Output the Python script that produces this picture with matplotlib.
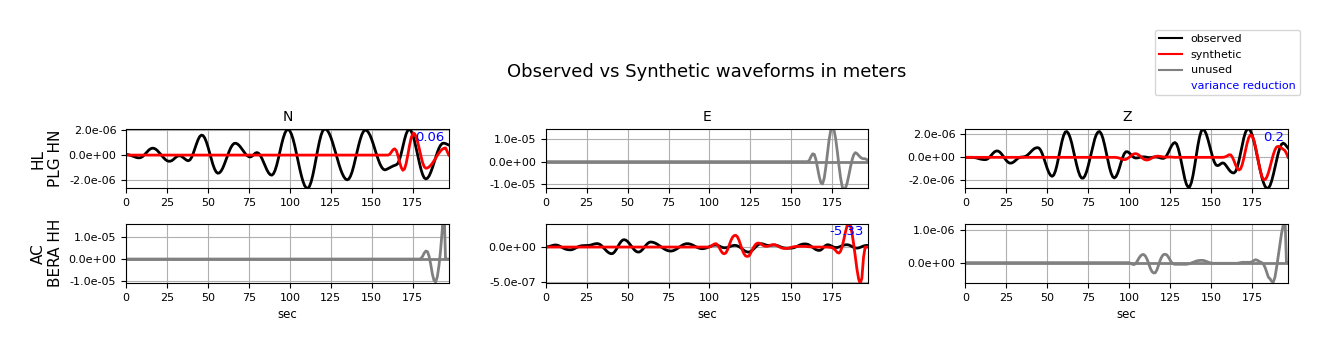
#!/usr/bin/env python3
"""Observed vs synthetic waveform panels (2 stations x 3 components),
with variance reduction printed in the used panels. Writes out.png."""

import matplotlib

matplotlib.use("Agg")
import matplotlib.pyplot as plt
from matplotlib.lines import Line2D
from matplotlib.ticker import FormatStrFormatter
import numpy as np

# ---- Layout labels -------------------------------------------------------
STATIONS = ["HL\nPLG HN", "AC\nBERA HH"]
COMPONENTS = ["N", "E", "Z"]
X_TICKS = [0, 25, 50, 75, 100, 125, 150, 175]

# Panel flags and variance reduction (None = not shown)
USED = [[True, False, True], [False, True, False]]
VAR_RED = [[0.06, None, 0.2], [None, -5.33, None]]

# Amplitude unit of each value list below (metres)
UNITS = [[1e-6, 1e-5, 1e-6], [1e-5, 1e-7, 1e-6]]

# ---- Traces: 1 s samples starting at the onset second; flat zero before ----
HL_N_OBS_ONSET = 0
HL_N_OBS = [
    0.05, 0.04, 0.01, -0.03, -0.08, -0.13, -0.175, -0.21, -0.22, -0.2,
    -0.13, -0.01, 0.13, 0.275, 0.41, 0.5, 0.55, 0.54, 0.48, 0.38,
    0.24, 0.09, -0.07, -0.22, -0.35, -0.445, -0.49, -0.49, -0.44, -0.34,
    -0.22, -0.12, -0.06, -0.055, -0.11, -0.21, -0.32, -0.41, -0.45, -0.39,
    -0.19, 0.12, 0.5, 0.885, 1.23, 1.48, 1.59, 1.56, 1.38, 1.07,
    0.665, 0.195, -0.285, -0.73, -1.09, -1.34, -1.445, -1.415, -1.28, -1.05,
    -0.74, -0.395, -0.03, 0.31, 0.6, 0.81, 0.93, 0.945, 0.89, 0.775,
    0.62, 0.44, 0.25, 0.08, -0.05, -0.13, -0.15, -0.08, 0.045, 0.16,
    0.2, 0.135, -0.03, -0.28, -0.575, -0.89, -1.18, -1.41, -1.56, -1.6,
    -1.49, -1.21, -0.79, -0.26, 0.31, 0.88, 1.375, 1.76, 1.99, 2.05,
    1.93, 1.66, 1.26, 0.745, 0.16, -0.46, -1.07, -1.62, -2.09, -2.43,
    -2.62, -2.65, -2.49, -2.13, -1.61, -0.98, -0.28, 0.415, 1.05, 1.57,
    1.92, 2.09, 2.07, 1.95, 1.73, 1.42, 1.04, 0.61, 0.16, -0.3,
    -0.745, -1.15, -1.48, -1.74, -1.91, -1.97, -1.905, -1.68, -1.33, -0.86,
    -0.325, 0.24, 0.79, 1.27, 1.655, 1.9, 2.0, 1.955, 1.8, 1.56,
    1.23, 0.845, 0.43, 0.01, -0.37, -0.71, -0.96, -1.125, -1.18, -1.14,
    -1.07, -1.0, -0.93, -0.87, -0.82, -0.77, -0.66, -0.34, 0.14, 0.7,
    1.245, 1.695, 1.98, 2.05, 1.92, 1.61, 1.17, 0.61, 0.015, -0.58,
    -1.12, -1.54, -1.81, -1.9, -1.84, -1.66, -1.37, -1.01, -0.6, -0.18,
    0.21, 0.55, 0.79, 0.925, 0.95, 0.92, 0.86, 0.8,
]
HL_N_SYN_ONSET = 158
HL_N_SYN = [
    0.0, 0.0, 0.0, 0.07, 0.25, 0.43, 0.5, 0.35, -0.055, -0.565,
    -1.0, -1.21, -1.1, -0.66, 0.01, 0.74, 1.35, 1.7, 1.72, 1.48,
    1.05, 0.5, -0.08, -0.59, -0.93, -1.05, -1.02, -0.94, -0.81, -0.645,
    -0.45, -0.24, -0.03, 0.165, 0.33, 0.46, 0.54, 0.57, 0.3, 0.0,
]
HL_E_OBS_ONSET = 158
HL_E_OBS = [
    0.0, 0.0, 0.0, 0.07, 0.23, 0.35, 0.32, 0.08, -0.3, -0.68,
    -0.94, -0.99, -0.74, -0.25, 0.37, 0.97, 1.39, 1.55, 1.41, 1.02,
    0.46, -0.16, -0.72, -1.11, -1.25, -1.17, -0.95, -0.62, -0.26, 0.07,
    0.3, 0.4, 0.36, 0.28, 0.2, 0.15, 0.13, 0.13, 0.09, 0.05,
]
HL_E_SYN_ONSET = 197
HL_E_SYN = [0.0]
HL_Z_OBS_ONSET = 0
HL_Z_OBS = [
    0.0, 0.0, 0.0, 0.0, 0.0, -0.01, -0.03, -0.06, -0.1, -0.14,
    -0.17, -0.19, -0.2, -0.18, -0.1, 0.04, 0.205, 0.365, 0.49, 0.55,
    0.545, 0.46, 0.315, 0.13, -0.075, -0.265, -0.41, -0.495, -0.5, -0.45,
    -0.35, -0.22, -0.1, -0.02, 0.02, 0.03, 0.05, 0.1, 0.2, 0.33,
    0.48, 0.62, 0.74, 0.81, 0.84, 0.8, 0.62, 0.31, -0.09, -0.53,
    -0.955, -1.31, -1.55, -1.64, -1.535, -1.19, -0.65, 0.02, 0.72, 1.37,
    1.88, 2.19, 2.23, 2.065, 1.71, 1.21, 0.6, -0.05, -0.67, -1.2,
    -1.59, -1.79, -1.795, -1.61, -1.25, -0.75, -0.16, 0.46, 1.06, 1.58,
    1.97, 2.19, 2.23, 2.045, 1.65, 1.09, 0.435, -0.25, -0.87, -1.37,
    -1.685, -1.78, -1.66, -1.37, -0.95, -0.47, -0.03, 0.31, 0.48, 0.485,
    0.395, 0.25, 0.1, -0.02, -0.06, -0.05, -0.02, 0.02, 0.04, 0.04,
    0.03, 0.0, -0.02, -0.02, 0.0, 0.02, 0.03, 0.02, 0.0, -0.05,
    -0.08, -0.09, -0.02, 0.17, 0.44, 0.75, 1.02, 1.21, 1.28, 1.15,
    0.76, 0.18, -0.515, -1.23, -1.87, -2.34, -2.58, -2.54, -2.18, -1.55,
    -0.725, 0.18, 1.06, 1.78, 2.26, 2.42, 2.32, 2.04, 1.6, 1.07,
    0.515, 0.0, -0.41, -0.66, -0.72, -0.66, -0.55, -0.48, -0.52, -0.68,
    -0.88, -1.08, -1.24, -1.33, -1.35, -1.22, -0.86, -0.31, 0.355, 1.05,
    1.68, 2.16, 2.43, 2.465, 2.3, 1.97, 1.49, 0.9, 0.23, -0.455,
    -1.12, -1.71, -2.19, -2.52, -2.68, -2.66, -2.44, -2.03, -1.49, -0.86,
    -0.225, 0.36, 0.82, 1.125, 1.23, 1.15, 0.98, 0.8,
]
HL_Z_SYN_ONSET = 90
HL_Z_SYN = [
    0.0, 0.0, -0.01, -0.03, -0.07, -0.12, -0.17, -0.2, -0.18, -0.1,
    0.0, 0.12, 0.23, 0.3, 0.32, 0.28, 0.19, 0.07, -0.06, -0.16,
    -0.22, -0.23, -0.2, -0.13, -0.05, 0.02, 0.07, 0.1, 0.1, 0.08,
    0.05, 0.03, 0.02, 0.02, 0.03, 0.03, 0.02, 0.01, 0.0, 0.0,
    0.0, 0.0, 0.0, 0.0, 0.0, 0.0, 0.0, 0.0, 0.0, 0.0,
    0.0, 0.0, 0.0, 0.0, 0.0, 0.0, 0.0, 0.0, 0.0, 0.0,
    0.0, 0.0, 0.0, 0.0, 0.0, 0.0, 0.0, 0.0, 0.02, 0.06,
    0.14, 0.22, 0.215, 0.02, -0.3, -0.665, -0.96, -1.095, -1.005, -0.64,
    -0.07, 0.59, 1.22, 1.705, 1.94, 1.88, 1.55, 1.0, 0.3, -0.445,
    -1.12, -1.64, -1.91, -1.92, -1.72, -1.335, -0.83, -0.28, 0.24, 0.65,
    0.9, 0.95, 0.9, 0.8, 0.7, 0.6, 0.35, 0.0,
]
AC_N_OBS_ONSET = 178
AC_N_OBS = [
    0.0, 0.0, 0.02, 0.12, 0.27, 0.36, 0.33, 0.12, -0.25, -0.68,
    -0.97, -1.03, -0.8, -0.3, 0.4, 1.3, 2.6, 0.0, 0.0, 0.0,
]
AC_N_SYN_ONSET = 197
AC_N_SYN = [0.0]
AC_E_OBS_ONSET = 0
AC_E_OBS = [
    0.0, 0.03, 0.08, 0.15, 0.22, 0.28, 0.3, 0.28, 0.2, 0.08,
    -0.05, -0.18, -0.28, -0.35, -0.39, -0.4, -0.38, -0.3, -0.18, -0.05,
    0.06, 0.14, 0.19, 0.21, 0.22, 0.22, 0.23, 0.26, 0.32, 0.4,
    0.46, 0.5, 0.49, 0.4, 0.23, -0.005, -0.26, -0.52, -0.735, -0.89,
    -0.965, -0.93, -0.72, -0.385, 0.03, 0.445, 0.79, 1.01, 1.07, 0.99,
    0.81, 0.54, 0.235, -0.08, -0.37, -0.59, -0.71, -0.72, -0.61, -0.39,
    -0.11, 0.2, 0.465, 0.655, 0.73, 0.71, 0.65, 0.555, 0.43, 0.275,
    0.11, -0.06, -0.22, -0.36, -0.47, -0.54, -0.58, -0.57, -0.51, -0.405,
    -0.27, -0.11, 0.05, 0.21, 0.34, 0.435, 0.485, 0.485, 0.44, 0.36,
    0.255, 0.13, 0.007, -0.1, -0.185, -0.23, -0.235, -0.2, -0.135, -0.04,
    0.06, 0.16, 0.24, 0.285, 0.3, 0.25, 0.15, 0.03, -0.06, -0.1,
    -0.1, -0.05, 0.04, 0.13, 0.2, 0.24, 0.24, 0.18, 0.06, -0.1,
    -0.3, -0.48, -0.62, -0.71, -0.73, -0.66, -0.5, -0.28, -0.04, 0.2,
    0.38, 0.47, 0.48, 0.42, 0.33, 0.26, 0.23, 0.25, 0.28, 0.3,
    0.3, 0.25, 0.17, 0.07, -0.03, -0.1, -0.14, -0.16, -0.17, -0.16,
    -0.15, -0.12, -0.05, 0.05, 0.17, 0.28, 0.37, 0.43, 0.45, 0.44,
    0.39, 0.28, 0.12, -0.055, -0.23, -0.37, -0.46, -0.49, -0.42, -0.22,
    0.05, 0.25, 0.34, 0.3, 0.2, 0.08, -0.02, -0.07, -0.06, 0.0,
    0.1, 0.2, 0.28, 0.33, 0.34, 0.3, 0.2, 0.07, -0.05, -0.13,
    -0.15, -0.12, -0.04, 0.06, 0.15, 0.21, 0.24, 0.22,
]
AC_E_SYN_ONSET = 100
AC_E_SYN = [
    0.0, 0.1, 0.3, 0.45, 0.49, 0.3, -0.1, -0.55, -0.88, -0.97,
    -0.85, -0.4, 0.25, 0.9, 1.4, 1.65, 1.7, 1.5, 1.0, 0.3,
    -0.4, -0.95, -1.28, -1.36, -1.3, -0.95, -0.45, 0.0, 0.35, 0.55,
    0.58, 0.5, 0.35, 0.2, 0.12, 0.1, 0.15, 0.24, 0.32, 0.35,
    0.32, 0.22, 0.1, -0.02, -0.12, -0.18, -0.2, -0.2, -0.16, -0.1,
    -0.04, 0.02, 0.06, 0.08, 0.1, 0.1, 0.1, 0.1, 0.1, 0.08,
    0.06, 0.04, 0.02, 0.01, 0.0, 0.0, 0.0, 0.0, 0.0, 0.0,
    0.0, 0.0, 0.0, -0.03, -0.06, -0.1, -0.25, -0.5, -0.78, -0.87,
    -0.6, 0.1, 1.1, 2.2, 3.1, 3.5, 3.1, 2.0, 0.4, -1.4,
    -3.2, -4.6, -5.3, -4.5, -1.5, 0.0, 0.0, 0.0,
]
AC_Z_OBS_ONSET = 100
AC_Z_OBS = [
    0.0, -0.02, -0.05, -0.06, -0.03, 0.05, 0.14, 0.21, 0.25, 0.25,
    0.2, 0.1, -0.04, -0.18, -0.28, -0.32, -0.31, -0.22, -0.07, 0.08,
    0.19, 0.25, 0.26, 0.24, 0.17, 0.08, 0.0, -0.04, -0.05, -0.05,
    -0.05, -0.05, -0.05, -0.05, -0.05, -0.05, -0.04, -0.03, -0.01, 0.01,
    0.03, 0.05, 0.06, 0.07, 0.07, 0.07, 0.06, 0.04, 0.02, 0.0,
    -0.01, -0.02, -0.02, -0.02, -0.02, -0.02, -0.02, -0.02, -0.02, -0.02,
    -0.02, -0.02, -0.02, -0.02, -0.02, -0.02, -0.02, -0.01, 0.0, 0.01,
    0.01, 0.01, 0.01, 0.01, 0.01, 0.03, 0.06, 0.09, 0.08, 0.05,
    0.02, 0.0, -0.05, -0.15, -0.3, -0.45, -0.5, -0.58, -0.6, -0.45,
    -0.15, 0.2, 0.55, 0.9, 1.15, 1.6, 0.0, 0.0,
]
AC_Z_SYN_ONSET = 197
AC_Z_SYN = [0.0]


def trace(vals, onset, unit):
    """Times/values for a trace sampled at 1 s from onset, zero before it."""
    t = onset + np.arange(len(vals))
    v = np.asarray(vals, dtype=float) * unit
    if onset > 0:
        t = np.r_[0, t]
        v = np.r_[0.0, v]
    return t, v


def main():
    panels = [
        [(HL_N_OBS, HL_N_OBS_ONSET, HL_N_SYN, HL_N_SYN_ONSET),
         (HL_E_OBS, HL_E_OBS_ONSET, HL_E_SYN, HL_E_SYN_ONSET),
         (HL_Z_OBS, HL_Z_OBS_ONSET, HL_Z_SYN, HL_Z_SYN_ONSET)],
        [(AC_N_OBS, AC_N_OBS_ONSET, AC_N_SYN, AC_N_SYN_ONSET),
         (AC_E_OBS, AC_E_OBS_ONSET, AC_E_SYN, AC_E_SYN_ONSET),
         (AC_Z_OBS, AC_Z_OBS_ONSET, AC_Z_SYN, AC_Z_SYN_ONSET)],
    ]
    # view limits / y ticks, same units as UNITS
    ylims = [[(-2.66, 2.08), (-1.19, 1.45), (-2.69, 2.45)],
             [(-1.08, 1.6), (-5.2, 3.4), (-0.63, 1.21)]]
    yticks = [[(-2, 0, 2), (-1, 0, 1), (-2, 0, 2)],
              [(-1, 0, 1), (-5, 0), (0, 1)]]

    fig, axes = plt.subplots(2, 3, figsize=(13.29, 3.51), dpi=100)
    fig.subplots_adjust(left=0.0948, right=0.9692, top=0.6325, bottom=0.1937,
                        wspace=0.3, hspace=0.59)

    for r in range(2):
        for c in range(3):
            ax = axes[r, c]
            unit = UNITS[r][c]
            obs, obs_on, syn, syn_on = panels[r][c]
            if USED[r][c]:
                obs_col, syn_col = "k", "r"
            else:
                obs_col, syn_col = "gray", "gray"
            ax.plot(*trace(obs, obs_on, unit), color=obs_col, lw=2)
            ax.plot(*trace(syn, syn_on, unit), color=syn_col, lw=2)

            ax.set_xlim(0, 197)
            ax.set_xticks(X_TICKS)
            lo, hi = ylims[r][c]
            ax.set_ylim(lo * unit, hi * unit)
            ax.set_yticks([v * unit for v in yticks[r][c]])
            ax.yaxis.set_major_formatter(FormatStrFormatter("%.1e"))
            ax.tick_params(labelsize=8)
            ax.grid(True)

            vr = VAR_RED[r][c]
            if vr is not None:
                ax.text(0.987, 0.86, str(vr), transform=ax.transAxes,
                        ha="right", va="center", color="b", fontsize=9.5)
            if r == 0:
                ax.set_title(COMPONENTS[c], fontsize=10)
            else:
                ax.set_xlabel("sec", fontsize=8.5)
            if c == 0:
                ax.set_ylabel(STATIONS[r], fontsize=11, labelpad=4)

    # title is centred over the panel block, not the whole figure
    fig.suptitle("Observed vs Synthetic waveforms in meters", fontsize=13,
                 x=0.532, y=0.82)

    handles = [Line2D([], [], color="k"), Line2D([], [], color="r"),
               Line2D([], [], color="gray"), Line2D([], [], color="none")]
    labels = ["observed", "synthetic", "unused", "variance reduction"]
    leg = fig.legend(handles, labels, loc="upper right", fontsize=8,
                     bbox_to_anchor=(0.978, 0.915), borderaxespad=0)
    leg.get_texts()[3].set_color("b")

    fig.savefig("out.png", dpi=100)


if __name__ == "__main__":
    main()
